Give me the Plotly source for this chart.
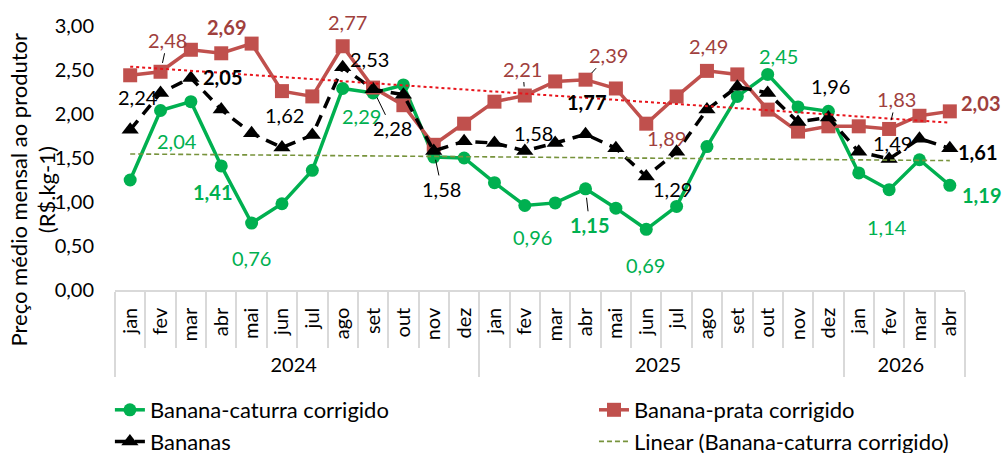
import numpy as np
import plotly.graph_objects as go

# ---------------- data ----------------
years = ["2024"] * 12 + ["2025"] * 12 + ["2026"] * 4
months = ["jan", "fev", "mar", "abr", "mai", "jun", "jul", "ago", "set", "out", "nov", "dez"] * 2 + \
         ["jan", "fev", "mar", "abr"]

caturra = [1.25, 2.04, 2.14, 1.41, 0.76, 0.98, 1.36, 2.29, 2.24, 2.33, 1.51, 1.50,
           1.22, 0.96, 0.99, 1.15, 0.93, 0.69, 0.95, 1.63, 2.20, 2.45, 2.08, 2.03,
           1.33, 1.14, 1.48, 1.19]
prata = [2.44, 2.48, 2.73, 2.69, 2.80, 2.26, 2.20, 2.77, 2.30, 2.10, 1.65, 1.89,
         2.14, 2.21, 2.37, 2.39, 2.29, 1.89, 2.20, 2.49, 2.45, 2.05, 1.80, 1.86,
         1.86, 1.83, 1.98, 2.03]
bananas = [1.82, 2.24, 2.41, 2.05, 1.78, 1.62, 1.76, 2.53, 2.28, 2.22, 1.58, 1.69,
           1.67, 1.58, 1.67, 1.77, 1.61, 1.29, 1.57, 2.05, 2.31, 2.24, 1.91, 1.96,
           1.57, 1.49, 1.72, 1.61]

names = ["Banana-caturra corrigido", "Banana-prata corrigido", "Bananas"]

# ---------------- styles ----------------
FONT = "Lato"
GREEN = "#00B050"
RED = "#C0504D"
RED_LBL = "#A0403D"
BLACK = "#000000"

x = [years, months]
idx = np.arange(len(months))

fig = go.Figure()
fig.add_trace(go.Scatter(x=x, y=caturra, name=names[0], mode="lines+markers",
                         line=dict(color=GREEN, width=3.5), legend="legend",
                         marker=dict(symbol="circle", size=13, color=GREEN)))
fig.add_trace(go.Scatter(x=x, y=prata, name=names[1], mode="lines+markers",
                         line=dict(color=RED, width=3.5), legend="legend2",
                         marker=dict(symbol="square", size=14, color=RED)))
fig.add_trace(go.Scatter(x=x, y=bananas, name=names[2], mode="lines+markers",
                         line=dict(color=BLACK, width=3.5, dash="12px,8px"), legend="legend",
                         marker=dict(symbol="triangle-up", size=15, color=BLACK)))

# linear trend lines (least squares fit of each series)
c_fit = np.polyval(np.polyfit(idx, caturra, 1), idx)
p_fit = np.polyval(np.polyfit(idx, prata, 1), idx)
fig.add_trace(go.Scatter(x=x, y=c_fit, name="Linear (Banana-caturra corrigido)", mode="lines",
                         line=dict(color="#77933C", width=1.6, dash="5px,3px"), legend="legend2"))
fig.add_trace(go.Scatter(x=x, y=p_fit, name="Linear (Banana-prata corrigido)", mode="lines",
                         line=dict(color="#E8141B", width=2, dash="dot"), showlegend=False))

# ---------------- data labels ----------------
# (series, index, dx, dy, bold, leader)
label_cfg = [
    (0, 1, 16, 31, False, False), (0, 3, -9, 26, True, False), (0, 4, 0, 35, False, False),
    (0, 7, 19, 28, False, False), (0, 13, 8, 31, False, False), (0, 15, 4, 36, True, True),
    (0, 17, -1, 36, False, False), (0, 21, 11, -18, False, False), (0, 25, -2, 37, False, False),
    (0, 27, 32, 10, True, False),
    (1, 1, 7, -32, False, True), (1, 3, 5, -26, True, False), (1, 7, 5, -24, False, False),
    (1, 13, -2, -27, False, True), (1, 15, 23, -25, False, True), (1, 17, 20, 14, False, False),
    (1, 19, 2, -25, False, False), (1, 25, 7, -30, False, True), (1, 27, 31, -8, True, False),
    (2, 1, -23, 4, False, False), (2, 3, 1, -33, True, False), (2, 5, 3, -32, False, False),
    (2, 7, 27, -8, False, False), (2, 8, 19, 39, False, True), (2, 10, 8, 38, False, True),
    (2, 13, 9, -18, False, False), (2, 15, 1, -32, True, False), (2, 17, 26, 13, False, False),
    (2, 23, 2, -32, False, False), (2, 25, 3, -16, False, False), (2, 27, 28, 4, True, False),
]
series = [caturra, prata, bananas]
lbl_colors = [GREEN, RED_LBL, BLACK]
for s, i, dx, dy, bold, leader in label_cfg:
    v = series[s][i]
    txt = f"{v:.2f}".replace(".", ",")
    if bold:
        txt = f"<b>{txt}</b>"
    fig.add_annotation(x=int(i), y=v, xref="x", yref="y", text=txt,
                       showarrow=True, ax=dx, ay=dy, arrowhead=0, arrowwidth=1,
                       arrowcolor=BLACK if leader else "rgba(0,0,0,0)", standoff=9,
                       font=dict(family=FONT, size=20, color=lbl_colors[s]))

# y-axis title
fig.add_annotation(text="Preço médio mensal ao produtor<br>(R$.kg-1)", textangle=-90,
                   xref="paper", yref="paper", x=-0.097, y=0.379,
                   xanchor="center", yanchor="middle", showarrow=False,
                   font=dict(family=FONT, size=22, color="#000"))

leg_common = dict(orientation="v", y=-0.375, xanchor="left", yanchor="top",
                  traceorder="normal", tracegroupgap=0,
                  font=dict(family=FONT, size=22, color="#000"), bgcolor="rgba(0,0,0,0)")

fig.update_layout(
    width=1004, height=453,
    margin=dict(l=115, r=39, t=26, b=163, autoexpand=False),
    paper_bgcolor="white", plot_bgcolor="white",
    separators=",.",
    font=dict(family=FONT, size=20, color="#000"),
    showlegend=True,
    legend=dict(x=-0.006, **leg_common),
    legend2=dict(x=0.5635, **leg_common),
)
fig.update_yaxes(range=[0, 3], autorange=False, dtick=0.5, tickformat=".2f", showgrid=False,
                 zeroline=False, showline=False, ticks="", ticklabelstandoff=20,
                 tickfont=dict(family=FONT, size=20, color="#000"))
fig.update_xaxes(type="multicategory", range=[-0.5, 27.5], autorange=False, showgrid=False,
                 showline=True, linecolor="#D9D9D9",
                 linewidth=1.5, ticks="outside", ticklen=56, tickcolor="#D9D9D9", tickwidth=1.5,
                 tickangle=-90, showdividers=True, dividercolor="#D9D9D9", dividerwidth=1.5,
                 ticklabelstandoff=8,
                 tickfont=dict(family=FONT, size=20, color="#000"))

fig.write_html("out.html", config={"displayModeBar": False},
               post_script="document.body.style.margin='0px';document.body.style.overflow='hidden';")
